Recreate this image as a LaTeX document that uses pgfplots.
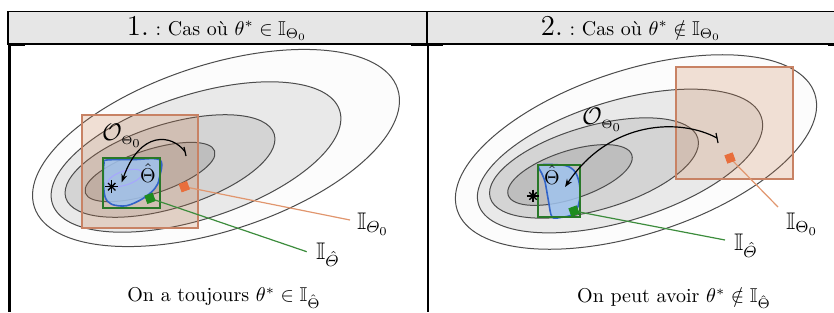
\documentclass[border=0pt]{standalone}
\usepackage{amsmath,amssymb}
\usepackage{pgfplots}
\pgfplotsset{compat=1.18}
\usetikzlibrary{arrows.meta}
\definecolor{headgray}{RGB}{230,230,230}
\definecolor{ringA}{RGB}{252,252,252}
\definecolor{ringB}{RGB}{233,233,233}
\definecolor{ringC}{RGB}{212,212,212}
\definecolor{ringD}{RGB}{190,190,190}
\definecolor{boxor}{RGB}{200,120,70}
\definecolor{boxline}{RGB}{200,130,100}
\definecolor{lineor}{RGB}{225,150,110}
\definecolor{markor}{RGB}{232,110,60}
\definecolor{gbox}{RGB}{40,120,40}
\definecolor{gmark}{RGB}{30,140,30}
\definecolor{gline}{RGB}{60,140,60}
\definecolor{blobfill}{RGB}{160,195,238}
\definecolor{blobdraw}{RGB}{50,100,200}
\newcommand{\ELL}[6]{\filldraw[fill=#6, draw=black!70, line width=0.5pt, rotate around={#5:(axis cs:#1,#2)}] (axis cs:#1,#2) ellipse [x radius=#3, y radius=#4];}
\begin{document}
\begin{tikzpicture}
\path[use as bounding box] (0,0) rectangle (417pt,156pt);
\begin{axis}[at={(0,0)}, anchor=south west, x=0.5pt, y=0.5pt,
  xmin=0, xmax=834, ymin=-312, ymax=0, hide axis, clip=false]
% header
\fill[headgray] (axis cs:8,-11.5) rectangle (axis cs:834,-44);
\draw[line width=0.7pt] (axis cs:834,-11.5) -- (axis cs:8,-11.5) -- (axis cs:8,-44) -- (axis cs:834,-44);
\draw[line width=0.7pt] (axis cs:427,-11.5) -- (axis cs:427,-44);
\draw[line width=1.3pt] (axis cs:9.5,-44) -- (axis cs:9.5,-312);
\draw[line width=1.1pt] (axis cs:428,-44) -- (axis cs:428,-312);
\draw[line width=1pt] (axis cs:8,-45) -- (axis cs:25,-45);
\draw[line width=1pt] (axis cs:411,-45) -- (axis cs:443,-45);
\draw[line width=1pt] (axis cs:828,-45) -- (axis cs:834,-45);
\node at (axis cs:217,-28) {{\Large 1.}\ :\ Cas où $\theta^*\in\mathbb{I}_{\Theta_0}$};
\node at (axis cs:631,-28) {{\Large 2.}\ :\ Cas où $\theta^*\notin\mathbb{I}_{\Theta_0}$};
% ---------- panel 1 ----------
\ELL{216}{-148}{191}{83}{18}{ringA}
\ELL{196}{-157}{151}{62}{18}{ringB}
\ELL{170}{-166}{109}{42}{17}{ringC}
\ELL{150}{-172}{68}{22}{18}{ringD}
\filldraw[fill=boxor, fill opacity=0.22, draw=boxline, line width=0.6pt] (axis cs:82,-115) rectangle (axis cs:198,-228);
\filldraw[fill=blobfill, fill opacity=0.85, draw=blobdraw, line width=0.8pt] plot[smooth cycle, tension=0.55] coordinates {(axis cs:106.7,-160) (axis cs:133,-159.6) (axis cs:160,-160) (axis cs:159.3,-178.3) (axis cs:155,-188.3) (axis cs:143.3,-198.3) (axis cs:126.7,-205.7) (axis cs:111.7,-204.3) (axis cs:105,-196.7) (axis cs:103.3,-178.3) (axis cs:104,-163.3)};
\draw[blue!35, line width=0.5pt, rotate around={18:(axis cs:125,-178)}] (axis cs:125,-178) ellipse [x radius=18, y radius=7];
\draw[gbox, line width=0.8pt] (axis cs:103,-158) rectangle (axis cs:160,-208);
\draw[-{Stealth[length=4pt,width=3pt]}, line width=0.6pt] (axis cs:185,-151.7) .. controls (axis cs:172,-134) and (axis cs:140,-130) .. (axis cs:121.7,-182.3);
\draw[line width=0.6pt] (axis cs:184,-147) -- (axis cs:186,-156);
\node at (axis cs:122,-136) {\large $\mathcal{O}_{\scriptscriptstyle\Theta_0}$};
\node at (axis cs:148,-173) {$\hat{\Theta}$};
\addplot[lineor, line width=0.6pt, no marks] coordinates {(184.3,-186.7) (350,-220)};
\addplot[gline, line width=0.6pt, no marks] coordinates {(150,-198.3) (306.7,-251.7)};
\node[anchor=west] at (axis cs:350,-224) {\large $\mathbb{I}_{\varTheta_0}$};
\node[anchor=west] at (axis cs:309,-255) {\large $\mathbb{I}_{\hat{\varTheta}}$};
\node at (axis cs:224,-298) {On a toujours $\theta^*\in\mathbb{I}_{\hat{\Theta}}$};
% ---------- panel 2 ----------
\ELL{636}{-152}{188}{82}{18}{ringA}
\ELL{620}{-161}{148}{60}{17}{ringB}
\ELL{594}{-168}{108}{42}{16}{ringC}
\ELL{570}{-175}{65}{24}{18}{ringD}
\filldraw[fill=boxor, fill opacity=0.22, draw=boxline, line width=0.6pt] (axis cs:676,-67) rectangle (axis cs:793,-179);
\filldraw[fill=blobfill, fill opacity=0.85, draw=blobdraw, line width=0.8pt] plot[smooth cycle, tension=0.5] coordinates {(axis cs:539.3,-165) (axis cs:565,-165.5) (axis cs:575,-171.7) (axis cs:579.3,-183.3) (axis cs:580,-196.7) (axis cs:577.3,-208.3) (axis cs:571.7,-215) (axis cs:561.7,-217.3) (axis cs:552,-217) (axis cs:548.3,-200) (axis cs:545,-181.7) (axis cs:541.7,-173.3)};
\draw[gbox, line width=0.8pt] (axis cs:538,-165) rectangle (axis cs:580,-217);
\draw[-{Stealth[length=4pt,width=3pt]}, line width=0.6pt] (axis cs:717,-138) .. controls (axis cs:680,-118) and (axis cs:610,-120) .. (axis cs:565,-187);
\draw[line width=0.6pt] (axis cs:716,-133) -- (axis cs:718,-143);
\node at (axis cs:602,-120) {\large $\mathcal{O}_{\scriptscriptstyle\Theta_0}$};
\node at (axis cs:552,-175) {$\hat{\Theta}$};
\addplot[lineor, line width=0.6pt, no marks] coordinates {(730,-158) (778,-207)};
\addplot[gline, line width=0.6pt, no marks] coordinates {(574,-211) (725,-240)};
\node[anchor=west] at (axis cs:779,-224) {\large $\mathbb{I}_{\Theta_0}$};
\node[anchor=west] at (axis cs:727,-246) {\large $\mathbb{I}_{\hat{\varTheta}}$};
\node at (axis cs:674,-298) {On peut avoir $\theta^*\notin\mathbb{I}_{\hat{\Theta}}$};
% marks
\addplot[only marks, mark=square*, mark size=2pt, color=markor, mark options={rotate=20}] coordinates {(184.3,-186.7) (730,-158)};
\addplot[only marks, mark=square*, mark size=2pt, color=gmark, mark options={rotate=20}] coordinates {(150,-198.3) (574,-211)};
\addplot[only marks, mark=+, mark size=3.2pt, black, mark options={line width=0.7pt}] coordinates {(111.7,-186.7) (533,-196)};
\addplot[only marks, mark=x, mark size=2.6pt, black, mark options={line width=0.7pt}] coordinates {(111.7,-186.7) (533,-196)};
\end{axis}
\end{tikzpicture}
\end{document}
